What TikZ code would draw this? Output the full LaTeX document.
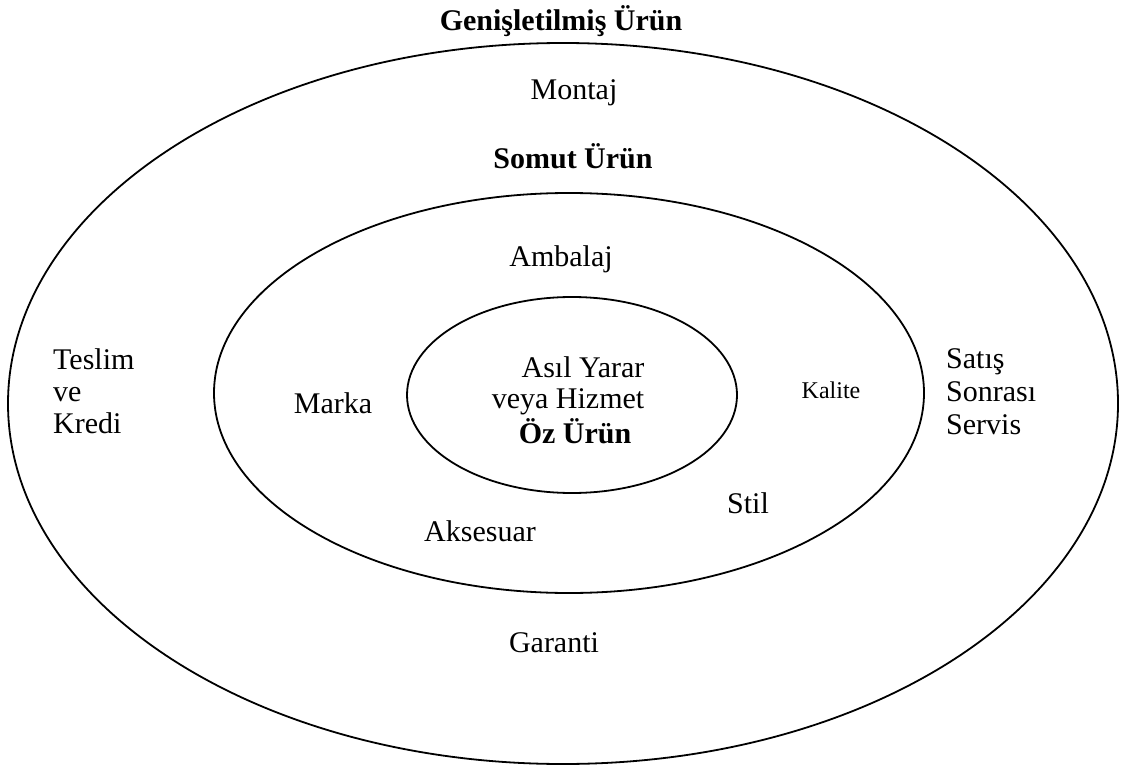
\documentclass[tikz,border=0pt]{standalone}
\usepackage{fontspec}
\setmainfont{Liberation Serif}
\usetikzlibrary{shapes.geometric}
\tikzset{
    ring/.style={draw, ellipse, line width=1.8pt, inner sep=0pt},
    lbl/.style={font=\fontsize{30}{32}\selectfont, inner sep=0pt, anchor=base},
    boldlbl/.style={lbl, font=\fontsize{30}{32}\selectfont\bfseries},
    smalllbl/.style={lbl, font=\fontsize{24}{28}\selectfont},
    sidelbl/.style={font=\fontsize{30}{32}\selectfont, inner sep=0pt, align=left, anchor=north west}
}
\begin{document}
\begin{tikzpicture}[x=1pt, y=-1pt]
        \useasboundingbox (0,0) rectangle (1124,770);
        % the three rings
        \foreach \n/\cx/\cy/\w/\h in {outer/563/403.5/1110/721, somut/569/393/710/400, oz/572/395/330/196}
            {
                \node[ring, minimum width=\w, minimum height=\h] (\n) at (\cx,\cy) {};
            }
        % outer ring
        \node[boldlbl] (genis) at (561,31) {Genişletilmiş Ürün};
        \node[lbl] (montaj) at (574,100) {Montaj};
        \node[sidelbl] (teslim) at (53,348.5) {Teslim\\ve\\Kredi};
        \node[sidelbl, font=\fontsize{30}{33}\selectfont] (satis) at (946,348.5) {Satış\\Sonrası\\Servis};
        \node[lbl] (garanti) at (554,652) {Garanti};
        % middle ring
        \node[boldlbl] (somutlbl) at (573,169) {Somut Ürün};
        \node[lbl] (ambalaj) at (561,266) {Ambalaj};
        \node[lbl] (marka) at (333,413) {Marka};
        \node[smalllbl] (kalite) at (831,398) {Kalite};
        \node[lbl] (stil) at (748,513) {Stil};
        \node[lbl] (aksesuar) at (480,541) {Aksesuar};
        % inner ring
        \node[lbl] (asil) at (583,377) {Asıl Yarar};
        \node[lbl] (veya) at (568,408) {veya Hizmet};
        \node[boldlbl] (ozlbl) at (575,443) {Öz Ürün};
\end{tikzpicture}
\end{document}
